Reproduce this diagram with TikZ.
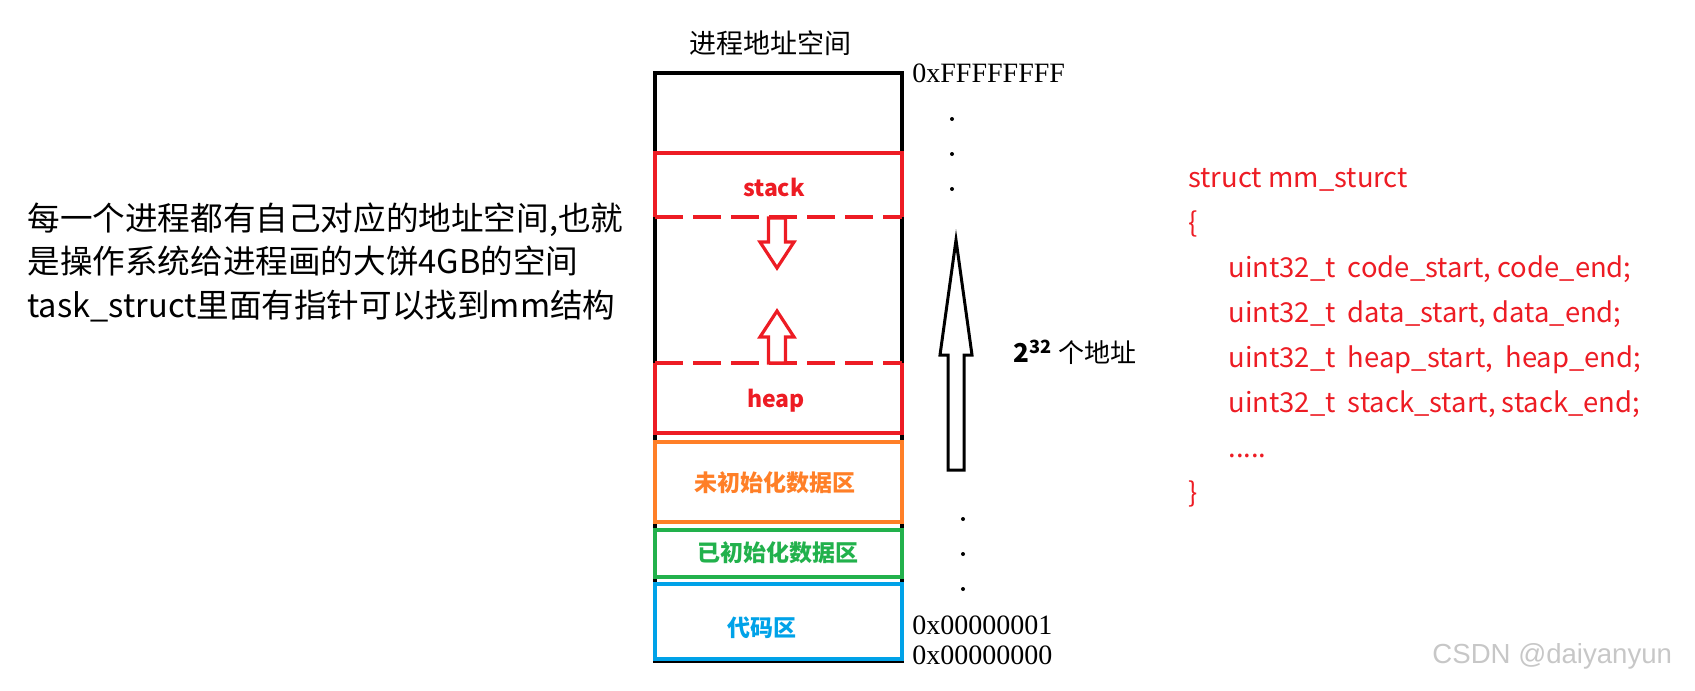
\documentclass[tikz,border=0pt]{standalone}
\usepackage{fontspec}
\setmainfont{Liberation Serif}
\newfontfamily\cjk{Noto Sans CJK SC}
\newfontfamily\wmfont{Liberation Sans}
\usetikzlibrary{positioning}
\definecolor{paintred}{RGB}{237,28,36}
\definecolor{paintorange}{RGB}{255,127,39}
\definecolor{paintgreen}{RGB}{34,177,76}
\definecolor{paintblue}{RGB}{0,162,232}
\tikzset{
  seg/.style={line width=2pt},
  cut/.style={seg,dash pattern=on 14pt off 5pt},
  lbl/.style={font=\cjk\fontsize{11.5}{14}\selectfont\bfseries,inner sep=0pt},
  addr/.style={font=\fontsize{14}{16}\selectfont,anchor=west,inner sep=0pt},
  hollow/.style={line width=1.6pt,line join=miter,fill=white},
  code/.style={font=\cjk\fontsize{13.7}{22.5}\selectfont,align=left,
               text=paintred,anchor=west,inner sep=0pt},
}

\begin{document}
\begin{tikzpicture}[x=0.5pt,y=-0.5pt]
    \useasboundingbox (0,0) rectangle (1695,690);
    % title and outer frame
    \node[font=\cjk\fontsize{13.5}{16}\selectfont,inner sep=0pt] (title) at (770,43)
      {进程地址空间};
    \draw[seg] (655,73) rectangle (902,661);
    % stack / heap
    \draw[seg,paintred] (655,217) |- (902,153) -- (902,217);
    \draw[cut,paintred] (655,217) -- (902,217);
    \draw[seg,paintred] (655,363) |- (902,433) -- (902,363);
    \draw[cut,paintred] (655,363) -- (902,363);
    \node[lbl,text=paintred] (stack) at (774,187) {stack};
    \node[lbl,text=paintred] (heap) at (776,401) {heap};
    \draw[hollow,draw=paintred] (768.5,218) -- (768.5,242) -- (760,242) -- (777,268)
      -- (794,242) -- (785.5,242) -- (785.5,218) -- cycle;
    \draw[hollow,draw=paintred] (768.5,363) -- (768.5,337) -- (760,337) -- (777,311)
      -- (794,337) -- (785.5,337) -- (785.5,363) -- cycle;
    % data and code segments
    \draw[seg,paintorange] (655,442) rectangle (902,522);
    \draw[seg,paintgreen] (655,530) rectangle (902,577);
    \draw[seg,paintblue] (655,584) rectangle (902,659);
    \node[lbl,text=paintorange] (bss) at (775,483) {未初始化数据区};
    \node[lbl,text=paintgreen] (data) at (778,553) {已初始化数据区};
    \node[lbl,text=paintblue] (text) at (762,628) {代码区};
    % addresses
    \node[addr] (high) at (912,73) {0xFFFFFFFF};
    \node[addr] (low1) at (912,625) {0x00000001};
    \node[below=5.5pt of low1.south west,addr,anchor=north west] (low0) {0x00000000};
    \foreach \y in {119,154,189} \fill (952,\y) circle (1pt);
    \foreach \y in {519,554,589} \fill (963,\y) circle (1pt);
    \draw[hollow,line width=1.5pt] (948,470) -- (948,355) -- (940,355) -- (956,240)
      -- (972,355) -- (964,355) -- (964,470) -- cycle;
    \node[font=\cjk\fontsize{13}{16}\selectfont,anchor=west,inner sep=0pt] (count)
      at (1013,352) {{\bfseries 2\textsuperscript{32}} 个地址};
    % notes
    \node[font=\cjk\fontsize{16.3}{21.75}\selectfont,align=left,anchor=west,inner sep=0pt]
      (note) at (27,262)
      {每一个进程都有自己对应的地址空间,也就\\是操作系统给进程画的大饼4GB的空间\\task\_struct里面有指针可以找到mm结构};
    \node[code] (mm) at (1188,338)
      {struct mm\_sturct\\
       \{\\
       \hspace*{20pt}uint32\_t\ \ code\_start, code\_end;\\
       \hspace*{20pt}uint32\_t\ \ data\_start, data\_end;\\
       \hspace*{20pt}uint32\_t\ \ heap\_start,\ \ heap\_end;\\
       \hspace*{20pt}uint32\_t\ \ stack\_start, stack\_end;\\
       \hspace*{20pt}.....\\
       \}};
    \node[font=\wmfont\fontsize{13.8}{16}\selectfont,text=black!22,anchor=west,inner sep=0pt]
      (wm) at (1432,656) {CSDN @daiyanyun};
\end{tikzpicture}
\end{document}
